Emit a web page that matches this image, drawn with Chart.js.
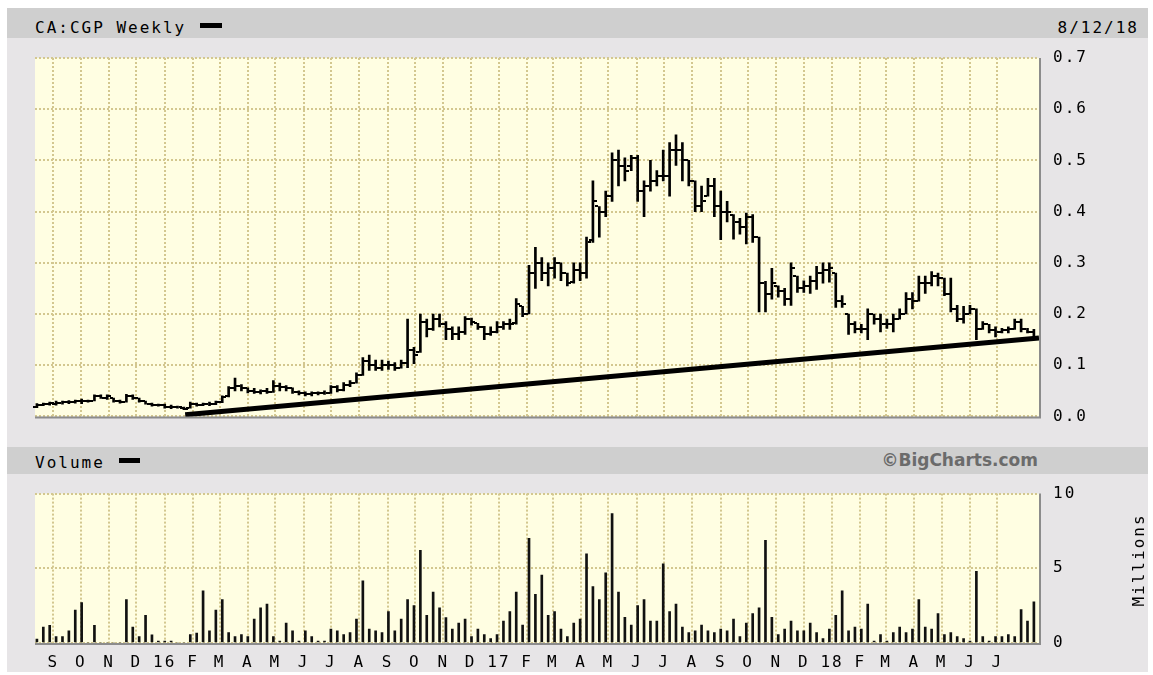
<!DOCTYPE html>
<html>
<head>
<meta charset="utf-8">
<script src="https://cdn.jsdelivr.net/npm/chart.js@4.4.0/dist/chart.umd.min.js"></script>
<style>
  body { margin: 0; background: #fff; width: 1153px; height: 675px; overflow: hidden; position: relative; font-family: "DejaVu Sans Mono", monospace; }
  #frame { position: absolute; left: 7px; top: 8px; width: 1141px; height: 664px; background: #e7e5e7; }
  .band { position: absolute; left: 7px; width: 1141px; background: #cfcfcf; }
  .lbl { position: absolute; font-size: 16px; letter-spacing: 2px; color: #000; line-height: 1; white-space: nowrap; }
  .dash { position: absolute; height: 5px; background: #000; }
  #credit { position: absolute; right: 115px; top: 452px; font: bold 17px "DejaVu Sans", sans-serif; color: #6b6b6b; line-height: 1; }
  canvas { position: absolute; left: 0; }
</style>
</head>
<body>
<div id="frame"></div>
<div class="band" style="top:8px;height:30px"></div>
<div class="band" style="top:447px;height:27px"></div>
<div class="lbl" style="left:35px;top:20px">CA:CGP Weekly</div>
<div class="dash" style="left:200px;top:23px;width:22px"></div>
<div class="lbl" style="right:14px;top:20px">8/12/18</div>
<div class="lbl" style="left:35px;top:455px">Volume</div>
<div class="dash" style="left:119px;top:458px;width:21px"></div>
<div id="credit">©BigCharts.com</div>
<canvas id="priceChart" width="1153" height="440" style="top:0"></canvas>
<canvas id="volChart" width="1153" height="205" style="top:470px"></canvas>
<script>
// weekly bars, week 0 = week ending Fri 14 Aug 2015
const firstWeek = Date.UTC(2015, 7, 14);
const WEEK = 7 * 86400000;

const highs = [
  .025, .026, .028, .030, .030, .031, .032, .034, .032, .042, .042, .042, .036, .032, .043, .042, .036, .030, .026, .024,
  .024, .022, .020, .018, .028, .026, .026, .028, .030, .040, .058, .075, .062, .056, .055, .052, .055, .070, .065, .060,
  .056, .050, .048, .048, .048, .050, .060, .060, .066, .070, .085, .115, .120, .110, .110, .108, .105, .110, .190, .135,
  .200, .190, .200, .200, .185, .175, .175, .195, .192, .182, .176, .175, .185, .185, .190, .230, .215, .295, .330, .310,
  .300, .310, .300, .280, .300, .300, .350, .460, .410, .440, .515, .520, .505, .510, .510, .460, .500, .480, .520, .535,
  .550, .535, .500, .460, .450, .465, .465, .440, .420, .394, .387, .397, .394, .350, .264, .289, .255, .250, .300, .274,
  .265, .274, .293, .300, .300, .280, .236, .200, .185, .180, .210, .200, .200, .190, .200, .210, .242, .242, .274, .274,
  .283, .280, .270, .270, .217, .215, .217, .210, .185, .180, .175, .172, .175, .190, .190, .172, .170
];
const lows = [
  .017, .021, .022, .022, .024, .025, .026, .025, .028, .030, .035, .033, .028, .026, .028, .033, .028, .024, .020, .020,
  .016, .015, .016, .013, .016, .020, .021, .021, .023, .027, .038, .050, .050, .046, .045, .044, .045, .047, .050, .050,
  .045, .042, .040, .040, .042, .043, .045, .048, .050, .058, .065, .080, .090, .090, .090, .092, .090, .094, .095, .103,
  .125, .155, .168, .175, .150, .150, .150, .160, .178, .170, .150, .158, .163, .170, .170, .180, .195, .200, .250, .265,
  .255, .270, .265, .255, .260, .265, .270, .340, .350, .390, .420, .450, .460, .480, .420, .390, .440, .450, .460, .430,
  .490, .460, .450, .400, .400, .430, .390, .345, .380, .346, .356, .337, .340, .204, .204, .229, .233, .217, .217, .242,
  .242, .240, .248, .260, .262, .213, .213, .160, .163, .163, .150, .180, .165, .172, .165, .190, .200, .210, .225, .240,
  .255, .255, .236, .204, .185, .182, .200, .150, .170, .163, .155, .163, .163, .170, .165, .163, .150
];
const opens = [
  .019, .022, .024, .025, .027, .028, .028, .030, .030, .031, .040, .036, .036, .030, .029, .040, .035, .030, .025, .023,
  .022, .018, .018, .017, .016, .025, .022, .025, .024, .028, .040, .055, .060, .055, .050, .048, .050, .048, .060, .058,
  .055, .048, .045, .044, .045, .045, .046, .057, .052, .062, .066, .080, .108, .100, .095, .100, .100, .095, .105, .130,
  .125, .185, .170, .190, .180, .170, .160, .165, .190, .182, .175, .160, .165, .175, .180, .182, .215, .200, .280, .300,
  .280, .290, .300, .280, .262, .285, .280, .345, .410, .400, .430, .500, .490, .490, .505, .440, .450, .460, .470, .470,
  .520, .520, .500, .460, .410, .430, .450, .410, .400, .394, .380, .370, .390, .350, .260, .240, .255, .245, .230, .274,
  .250, .255, .265, .280, .285, .280, .225, .200, .180, .170, .170, .200, .190, .180, .180, .190, .200, .230, .225, .260,
  .260, .275, .270, .240, .210, .190, .200, .210, .170, .180, .168, .165, .168, .170, .185, .170, .165
];
const closes = [
  .022, .024, .026, .027, .028, .028, .030, .030, .030, .040, .036, .040, .030, .028, .040, .036, .030, .025, .023, .022,
  .018, .018, .018, .015, .025, .022, .025, .024, .028, .038, .055, .060, .055, .050, .048, .050, .048, .060, .058, .055,
  .048, .045, .044, .045, .045, .046, .057, .052, .062, .066, .080, .108, .100, .095, .100, .100, .095, .105, .130, .120,
  .185, .170, .190, .180, .170, .160, .165, .190, .185, .175, .160, .165, .175, .180, .180, .220, .200, .280, .300, .280,
  .290, .300, .280, .260, .285, .280, .340, .420, .400, .430, .500, .490, .480, .505, .440, .450, .460, .470, .470, .520,
  .520, .500, .460, .410, .420, .450, .410, .400, .400, .380, .370, .390, .350, .260, .240, .260, .245, .230, .290, .250,
  .255, .265, .280, .285, .290, .225, .220, .180, .170, .170, .200, .190, .180, .180, .190, .200, .230, .225, .260, .260,
  .275, .270, .240, .210, .190, .200, .210, .170, .180, .168, .165, .168, .170, .185, .170, .165, .155
];
// volume in millions
const volumes = [
  0.26, 1.07, 1.18, 0.43, 0.43, 0.82, 2.2, 2.7, 0, 1.18, 0, 0, 0, 0, 2.9, 1.07, 0.43, 1.85, 0.54, 0.13,
  0.13, 0.13, 0, 0, 0.56, 0.67, 3.5, 0.82, 2.2, 2.9, 0.69, 0.43, 0.56, 0.43, 1.6, 2.36, 2.6, 0.43, 0.13, 1.33,
  0.82, 0.13, 0.82, 0.43, 0.13, 0.13, 0.94, 0.82, 0.56, 0.69, 1.6, 4.16, 0.94, 0.82, 0.69, 2.1, 0.82, 1.6, 2.9, 2.5,
  6.2, 1.85, 3.4, 2.36, 1.7, 0.94, 1.33, 1.6, 0.43, 0.94, 0.56, 0.3, 0.56, 1.46, 2.1, 3.4, 1.2, 7.0, 3.26, 4.55,
  1.85, 2.1, 0.94, 0.43, 1.33, 1.6, 5.97, 3.78, 2.9, 4.7, 8.67, 3.4, 1.72, 1.2, 2.5, 2.9, 1.46, 1.46, 5.3, 2.1,
  2.6, 1.07, 0.69, 0.82, 1.2, 0.82, 0.69, 0.94, 0.82, 1.6, 0.43, 1.33, 1.97, 2.36, 6.87, 1.72, 0.56, 0.94, 1.46, 0.82,
  0.82, 1.33, 0.69, 0.3, 0.94, 1.85, 3.5, 0.82, 1.07, 0.94, 2.6, 0.13, 0.56, 0.13, 0.69, 1.07, 0.69, 0.94, 2.9, 1.07,
  0.94, 1.97, 0.56, 0.69, 0.43, 0.3, 0.13, 4.8, 0.43, 0.13, 0.43, 0.43, 0.56, 0.43, 2.23, 1.46, 2.75
];
const monthLabels = ["S", "O", "N", "D", "16", "F", "M", "A", "M", "J", "J", "A", "S", "O", "N", "D", "17",
  "F", "M", "A", "M", "J", "J", "A", "S", "O", "N", "D", "18", "F", "M", "A", "M", "J", "J"];
const priceTicks = [0, 0.1, 0.2, 0.3, 0.4, 0.5, 0.6, 0.7];
const volumeTicks = [0, 5, 10];
// support line, in week index / price
const trendLine = [{ x: 23.2, y: 0.003 }, { x: 156.8, y: 0.153 }];

const monthPos = monthLabels.map((_, i) => (Date.UTC(2015, 8 + i, 1) - firstWeek) / WEEK);
const xMin = -0.3, xMax = 156.8;

Chart.defaults.font.family = "'DejaVu Sans Mono', monospace";
Chart.defaults.font.size = 16;
Chart.defaults.color = "#000";

const gridColor = "#d3c78f";

const plotBg = {
  id: "plotBg",
  beforeDraw(chart) {
    const a = chart.chartArea, ctx = chart.ctx;
    ctx.letterSpacing = "2px";
    ctx.save();
    ctx.fillStyle = "#fffee2";
    ctx.fillRect(a.left, a.top, a.right - a.left, a.bottom - a.top);
    ctx.restore();
  },
  afterDraw(chart) {
    const a = chart.chartArea, ctx = chart.ctx;
    ctx.save();
    ctx.strokeStyle = "#8c8c8c";
    ctx.lineWidth = 2;
    ctx.beginPath();
    ctx.moveTo(a.left, a.bottom + 1);
    ctx.lineTo(a.right + 1, a.bottom + 1);
    ctx.lineTo(a.right + 1, a.top);
    ctx.stroke();
    ctx.restore();
  }
};

// open tick left, close tick right
const ohlcTicks = {
  id: "ohlcTicks",
  afterDatasetsDraw(chart) {
    const x = chart.scales.x, y = chart.scales.y, ctx = chart.ctx;
    ctx.save();
    ctx.fillStyle = "#000";
    for (let i = 0; i < closes.length; i++) {
      const px = Math.round(x.getPixelForValue(i));
      ctx.fillRect(px - 4, Math.round(y.getPixelForValue(opens[i])) - 1, 3, 2);
      ctx.fillRect(px + 1, Math.round(y.getPixelForValue(closes[i])) - 1, 3, 2);
    }
    ctx.restore();
  }
};

const millionsLabel = {
  id: "millionsLabel",
  afterDraw(chart) {
    const ctx = chart.ctx;
    ctx.save();
    ctx.translate(1140, 90);
    ctx.rotate(-Math.PI / 2);
    ctx.font = "16px 'DejaVu Sans Mono', monospace";
    ctx.letterSpacing = "2px";
    ctx.fillStyle = "#000";
    ctx.textAlign = "center";
    ctx.textBaseline = "middle";
    ctx.fillText("Millions", 0, 0);
    ctx.restore();
  }
};

function xAxis(showLabels, height) {
  return {
    type: "linear",
    min: xMin,
    max: xMax,
    offset: false,
    afterBuildTicks: s => { s.ticks = monthPos.map(v => ({ value: v })); },
    afterFit: s => { s.height = height; },
    border: { display: false, dash: [2, 2] },
    grid: { color: gridColor, lineWidth: 2, drawTicks: false, offset: false },
    ticks: {
      display: showLabels,
      autoSkip: false,
      maxRotation: 0,
      padding: 10,
      callback: (v, i) => monthLabels[i]
    }
  };
}

function yAxis(ticks, fmt) {
  return {
    position: "right",
    min: ticks[0],
    max: ticks[ticks.length - 1],
    afterBuildTicks: s => { s.ticks = ticks.map(v => ({ value: v })); },
    afterFit: s => { s.width = 114; },
    border: { display: false, dash: [2, 2] },
    grid: { color: gridColor, lineWidth: 2, drawTicks: false },
    ticks: { padding: 14, callback: fmt }
  };
}

const weekIdx = closes.map((_, i) => i);

new Chart(document.getElementById("priceChart"), {
  type: "bar",
  data: {
    datasets: [
      {
        label: "Range",
        data: weekIdx.map(i => ({ x: i, y: [lows[i], highs[i]] })),
        backgroundColor: "#000",
        barThickness: 2,
        grouped: false,
        order: 1
      },
      {
        type: "line",
        label: "Trend",
        data: trendLine,
        borderColor: "#000",
        borderWidth: 5,
        pointRadius: 0,
        clip: 6,
        order: 2
      }
    ]
  },
  options: {
    responsive: false,
    animation: false,
    layout: { padding: { left: 35, top: 58, right: 0, bottom: 0 } },
    plugins: { legend: { display: false }, tooltip: { enabled: false } },
    scales: {
      x: xAxis(false, 15),
      y: yAxis(priceTicks, v => v.toFixed(1))
    }
  },
  plugins: [plotBg, ohlcTicks]
});

new Chart(document.getElementById("volChart"), {
  type: "bar",
  data: {
    datasets: [{
      label: "Volume",
      data: weekIdx.map(i => ({ x: i, y: volumes[i] })),
      backgroundColor: "#111",
      barThickness: 2,
      grouped: false
    }]
  },
  options: {
    responsive: false,
    animation: false,
    layout: { padding: { left: 35, top: 18, right: 0, bottom: 0 } },
    plugins: { legend: { display: false }, tooltip: { enabled: false } },
    scales: {
      x: xAxis(true, 32),
      y: yAxis(volumeTicks, v => String(v))
    }
  },
  plugins: [plotBg, millionsLabel]
});
</script>
</body>
</html>
